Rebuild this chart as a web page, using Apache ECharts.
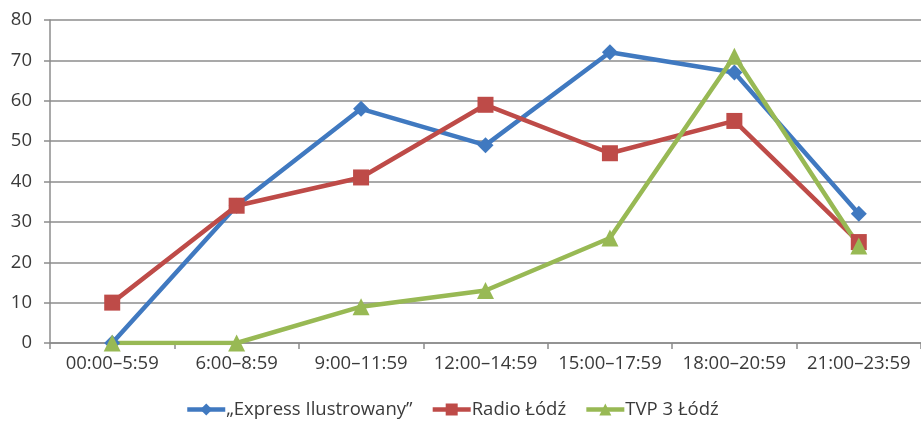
<!DOCTYPE html>
<html>
<head>
<meta charset="utf-8">
<script src="https://cdn.jsdelivr.net/npm/echarts@6/dist/echarts.min.js"></script>
<style>
  html, body { margin: 0; padding: 0; background: #fff; }
  #chart { width: 921px; height: 424px; }
</style>
</head>
<body>
<div id="chart"></div>
<script>
// Time slots along the x axis
const categories = ['00:00\u20135:59', '6:00\u20138:59', '9:00\u201311:59', '12:00\u201314:59', '15:00\u201317:59', '18:00\u201320:59', '21:00\u201323:59'];

// Series names and values per time slot
const seriesNames = ['\u201EExpress Ilustrowany\u201D', 'Radio \u0141\u00F3d\u017A', 'TVP 3 \u0141\u00F3d\u017A'];
const expressValues = [0, 34, 58, 49, 72, 67, 32];
const radioValues = [10, 34, 41, 59, 47, 55, 25];
const tvpValues = [0, 0, 9, 13, 26, 71, 24];

// Value axis ticks
const yTicks = [0, 10, 20, 30, 40, 50, 60, 70, 80];

const fontFamily = '"Open Sans", "DejaVu Sans", sans-serif';
const textColor = '#3a3a3a';
const gridColor = '#8c8c8c';
const fontSize = 18.5;

const chart = echarts.init(document.getElementById('chart'), null, { renderer: 'canvas' });

function lineSeries(name, data, color, symbol, size) {
  return {
    name: name,
    type: 'line',
    data: data,
    symbol: symbol,
    symbolSize: size,
    showAllSymbol: true,
    lineStyle: { color: color, width: 4.5 },
    itemStyle: { color: color },
    emphasis: { disabled: true },
    animation: false
  };
}

chart.setOption({
  animation: false,
  textStyle: { fontFamily: fontFamily },
  grid: { left: 50, right: 0, top: 20, bottom: 81, containLabel: false },
  legend: {
    bottom: 0,
    left: 180,
    itemWidth: 38,
    itemHeight: 15,
    itemGap: 18,
    lineStyle: { width: 4.5 },
    textStyle: { fontSize: fontSize, color: textColor, fontFamily: fontFamily, padding: [0, 0, 0, -4] },
    data: seriesNames
  },
  xAxis: {
    type: 'category',
    data: categories,
    boundaryGap: true,
    axisLine: { show: true, lineStyle: { color: gridColor, width: 1.5 } },
    axisTick: { show: true, length: 6, alignWithLabel: false, lineStyle: { color: gridColor, width: 1.5 } },
    axisLabel: { fontSize: fontSize, color: textColor, margin: 11, interval: 0 },
    splitLine: { show: false }
  },
  yAxis: {
    type: 'value',
    min: yTicks[0],
    max: yTicks[yTicks.length - 1],
    interval: yTicks[1] - yTicks[0],
    axisLine: { show: true, lineStyle: { color: gridColor, width: 1.5 } },
    axisTick: { show: true, length: 6, lineStyle: { color: gridColor, width: 1.5 } },
    axisLabel: { fontSize: fontSize, color: textColor, margin: 18 },
    splitLine: { show: true, lineStyle: { color: gridColor, width: 1.5 } }
  },
  series: [
    lineSeries(seriesNames[0], expressValues, '#4079c0', 'diamond', 16),
    lineSeries(seriesNames[1], radioValues, '#be4b48', 'rect', 16),
    lineSeries(seriesNames[2], tvpValues, '#98b954', 'triangle', 17)
  ]
});
</script>
</body>
</html>
